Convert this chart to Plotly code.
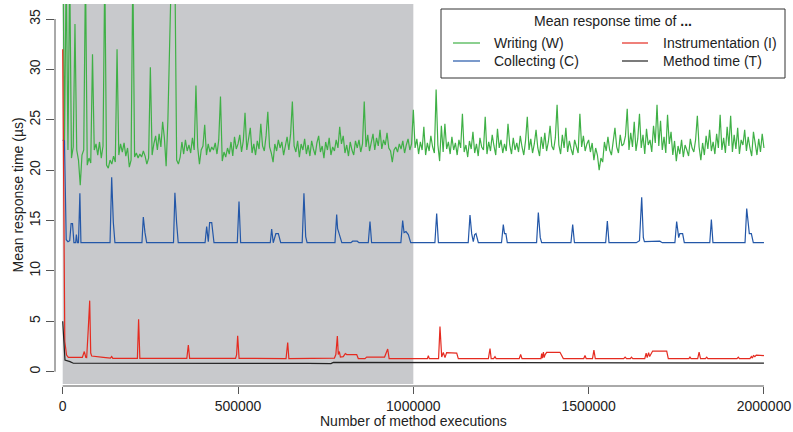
import plotly.graph_objects as go

# ---------------- data ----------------
GREEN_STEP = 5000  # executions between consecutive samples of the Writing series
writing_y = [
    45, 22.5, 40, 22.0, 40, 21.2, 22.3, 34.5, 22.0, 21.0, 18.5, 21.5, 22.0, 40, 20.5, 21.2, 20.7, 31.5, 22.0, 22.6,
    21.5, 22.8, 21.2, 22.4, 40, 20.5, 20.2, 21.0, 20.6, 21.4, 20.8, 32.0, 21.5, 22.6, 21.8, 22.7, 21.4, 22.2, 20.3, 21.0,
    40, 21.3, 21.7, 21.2, 21.6, 21.3, 21.9, 21.4, 20.6, 21.2, 30.2, 21.5, 22.6, 23.4, 22.0, 23.6, 22.3, 24.8, 23.2, 20.4,
    25.0, 32.5, 40, 40, 40, 21.0, 20.6, 21.3, 22.8, 21.6, 23.0, 21.9, 22.5, 21.7, 23.2, 22.0, 28.4, 22.3, 20.6, 22.0,
    22.4, 24.5, 21.5, 22.6, 21.8, 22.3, 22.0, 22.7, 21.6, 23.0, 27.3, 20.9, 21.8, 21.3, 22.2, 21.6, 22.8, 21.4, 23.3, 22.1,
    22.6, 23.5, 21.8, 22.9, 25.7, 22.0, 23.1, 24.2, 21.7, 22.6, 21.5, 22.9, 22.1, 24.6, 22.4, 21.9, 23.4, 25.8, 22.3, 21.7,
    20.8, 22.6, 21.9, 23.0, 22.2, 22.8, 21.5, 22.5, 23.3, 22.0, 23.6, 26.8, 22.4, 21.8, 22.9, 21.3, 22.6, 22.0, 23.1, 21.6,
    22.5, 21.4, 22.9, 22.1, 21.5, 22.7, 23.4, 21.8, 22.4, 21.2, 22.8, 22.0, 23.2, 21.5, 22.3, 21.9, 23.0, 22.2, 24.3, 22.6,
    23.4, 21.7, 22.5, 21.4, 22.8, 22.0, 21.5, 22.9, 22.2, 23.0, 21.8, 22.6, 26.8, 22.3, 23.5, 21.9, 22.7, 23.6, 22.0, 23.2,
    22.4, 24.0, 22.1, 23.0, 22.5, 23.7, 22.2, 21.9, 20.8, 22.0, 22.3, 21.8, 22.6, 22.1, 22.9, 21.7, 22.5, 23.1, 22.0, 22.6,
    26.0, 22.2, 23.1, 21.6, 22.8, 22.0, 24.3, 21.5, 22.7, 21.9, 23.4, 22.3, 21.7, 28.0, 22.5, 20.9, 24.4, 21.8, 24.6, 22.1,
    22.8, 21.6, 23.3, 22.0, 22.7, 21.5, 23.0, 22.2, 25.6, 21.8, 22.5, 21.3, 22.9, 22.1, 23.8, 21.7, 22.6, 21.4, 23.2, 22.3,
    22.0, 25.3, 21.6, 22.8, 21.9, 23.5, 22.4, 21.5, 24.1, 22.2, 23.0, 21.7, 22.6, 21.9, 24.6, 22.5, 21.6, 23.2, 22.0, 22.7,
    21.8, 23.4, 22.3, 21.5, 22.9, 25.3, 22.0, 23.1, 21.7, 22.6, 24.0, 22.2, 21.4, 23.3, 22.1, 23.7, 21.9, 22.8, 24.4, 22.4,
    22.0, 23.2, 26.5, 22.5, 21.6, 23.5, 22.2, 24.2, 21.8, 22.9, 22.1, 21.5, 23.0, 22.4, 21.7, 25.6, 22.3, 23.4, 21.9, 22.6,
    23.0, 21.8, 22.7, 21.0, 22.2, 21.5, 20.0, 21.2, 20.8, 22.8, 21.9, 23.3, 22.0, 21.5, 22.9, 24.2, 22.3, 21.7, 23.5, 22.4,
    22.6, 23.4, 26.1, 22.0, 23.7, 22.3, 24.8, 21.9, 23.1, 25.6, 22.2, 23.5, 21.6, 24.1, 22.5, 23.0, 21.8, 24.4, 22.7, 26.5,
    22.4, 24.9, 22.0, 23.3, 21.7, 25.5, 22.6, 23.8, 21.5, 22.9, 20.9, 22.4, 21.6, 23.0, 21.3, 22.5, 22.0, 21.4, 23.1, 22.2,
    21.8, 23.0, 25.4, 22.3, 21.0, 22.7, 21.5, 23.4, 22.1, 24.0, 21.9, 22.8, 21.6, 23.6, 22.2, 25.5, 22.0, 23.2, 21.7, 24.3,
    22.4, 25.4, 21.8, 23.5, 22.1, 24.2, 21.6, 23.0, 22.5, 24.0, 21.9, 23.3, 22.2, 21.4, 23.8, 22.6, 21.5, 23.1, 21.8, 23.6, 22.2,
]
writing_x = [i * GREEN_STEP for i in range(len(writing_y))]

collecting_x = [
    0, 5000, 10000, 15000, 20000, 24000, 28000, 32000, 37000, 39000, 42000, 45000, 49000, 52000,
    135000, 139700, 144400, 149000,
    226000, 229900, 234700, 239500,
    316000, 320000, 324800, 329500,
    406000, 410600, 415300, 419000, 425000, 431500,
    498000, 502800, 507500,
    592000, 596000, 600500, 608000, 615000, 621700,
    683000, 688000, 693000, 697000,
    776500, 781400, 784000, 787500, 791000, 796000,
    822000, 827000, 840000, 845000,
    871500, 876400, 881000,
    964500, 969600, 973500, 979000, 985700, 992500,
    1061500, 1066600, 1071500,
    1156500, 1161600, 1166400, 1171000, 1175000, 1178700, 1185400,
    1251500, 1256600, 1260000, 1264000, 1268000,
    1351500, 1356500, 1362000, 1366000,
    1449500, 1454500, 1459500,
    1548500, 1553300, 1558000,
    1636000, 1645000, 1651300, 1656000, 1659000, 1684000, 1703000, 1710000,
    1746000, 1751000, 1756800, 1760000, 1768000, 1772800,
    1845500, 1850000, 1854500,
    1946000, 1950800, 1958200, 1964000, 1969600, 2000000,
]
collecting_y = [
    23.0, 22.9, 13.1, 12.9, 13.0, 14.7, 14.7, 12.8, 12.8, 13.6, 12.8, 12.8, 17.7, 12.8,
    12.8, 19.3, 14.8, 12.8,
    12.8, 15.35, 13.8, 12.8,
    12.8, 17.76, 14.8, 12.8,
    12.8, 14.4, 12.9, 14.8, 14.8, 12.8,
    12.8, 16.9, 12.8,
    12.8, 14.16, 12.8, 13.7, 13.7, 12.8,
    12.8, 17.7, 13.4, 12.8,
    12.8, 15.6, 14.2, 13.8, 13.4, 12.8,
    12.8, 12.95, 12.95, 12.8,
    12.8, 14.9, 12.8,
    12.8, 15.0, 13.8, 13.9, 13.6, 12.8,
    12.8, 15.7, 12.8,
    12.8, 15.55, 13.7, 12.9, 13.6, 13.7, 12.8,
    12.8, 14.6, 13.7, 13.7, 12.8,
    12.8, 15.8, 13.3, 12.8,
    12.8, 14.6, 12.8,
    12.8, 14.95, 12.8,
    12.8, 13.0, 17.3, 13.3, 12.9, 12.95, 12.95, 12.8,
    12.8, 14.9, 13.3, 13.7, 13.7, 12.8,
    12.8, 15.1, 12.8,
    12.8, 16.2, 13.7, 13.7, 12.8, 12.8,
]

instrumentation_x = [
    0, 6000, 11000, 16000, 56000, 61600, 66000, 68400, 73000, 77000, 79900, 82700, 115800, 136000, 139700, 143000,
    213000, 216500, 220000,
    354000, 358300, 362000,
    493000, 496000, 499000, 503000,
    637000, 641700, 645000,
    770000, 775000, 779000, 783300, 786000, 789000, 792000, 800000, 806000, 810000, 838500, 843000,
    862000, 867000, 918000, 926900, 931000,
    1040000, 1042800, 1045500,
    1072000, 1076000, 1080900, 1085500, 1090300, 1095000, 1123700, 1128300,
    1214000, 1218700, 1222000, 1229000, 1232900, 1236000,
    1302000, 1306000, 1310000,
    1364000, 1366000, 1368000, 1371000, 1373000, 1376000, 1380300, 1418300, 1423000, 1427800,
    1486000, 1489600, 1493000,
    1511000, 1515000, 1519000,
    1600000, 1604000, 1608000, 1619000, 1622000, 1626000,
    1660000, 1664000, 1667000, 1671000, 1674000, 1678000, 1682500, 1722600, 1727200,
    1786000, 1789000, 1792000,
    1811000, 1815000, 1819000,
    1833000, 1836700, 1840000,
    1923000, 1926800, 1930000,
    1960000, 1964000, 1967000, 1970000, 1974000, 1978000, 2000000,
]
instrumentation_y = [
    32.0, 3.0, 1.65, 1.42, 1.42, 2.0, 1.42, 1.4, 4.3, 7.05, 1.85, 1.55, 1.42, 1.35, 1.5, 1.33,
    1.33, 5.2, 1.33,
    1.33, 2.65, 1.33,
    1.33, 1.7, 3.57, 1.33,
    1.3, 2.9, 1.3,
    1.3, 1.35, 1.7, 3.54, 1.7, 2.0, 1.45, 1.5, 1.8, 1.7, 1.7, 1.3,
    1.3, 1.45, 1.45, 2.25, 1.3,
    1.3, 1.6, 1.3,
    1.3, 4.47, 1.45, 1.9, 1.4, 1.9, 1.85, 1.3,
    1.3, 2.3, 1.3, 1.3, 1.5, 1.3,
    1.3, 1.7, 1.3,
    1.3, 1.8, 1.35, 1.95, 1.4, 1.7, 1.92, 1.92, 1.55, 1.3,
    1.3, 1.6, 1.3,
    1.3, 2.15, 1.3,
    1.3, 1.45, 1.3, 1.3, 1.45, 1.3,
    1.3, 1.85, 1.4, 1.9, 1.5, 1.8, 2.05, 2.05, 1.3,
    1.3, 1.45, 1.3,
    1.3, 1.95, 1.3,
    1.3, 1.45, 1.3,
    1.3, 1.45, 1.3,
    1.3, 1.5, 1.35, 1.6, 1.5, 1.65, 1.6,
]

method_x = [0, 6500, 20800, 30300, 700000, 765000, 772000, 855000, 860000, 2000000]
method_y = [5.0, 1.16, 1.0, 0.84, 0.83, 0.80, 0.92, 0.92, 0.85, 0.86]

x_ticks = [0, 500000, 1000000, 1500000, 2000000]
x_tick_labels = ["0", "500000", "1000000", "1500000", "2000000"]
y_ticks = [0, 5, 10, 15, 20, 25, 30, 35]
warmup_end = 1000000

series = [
    ("Writing (W)", writing_x, writing_y, "#3FB046"),
    ("Collecting (C)", collecting_x, collecting_y, "#2357A8"),
    ("Instrumentation (I)", instrumentation_x, instrumentation_y, "#E52B20"),
    ("Method time (T)", method_x, method_y, "#222222"),
]

# ---------------- figure ----------------
FONT = "Liberation Sans, Arial, Helvetica, sans-serif"
W, H = 793, 432
ML, MR, MT, MB = 55, 4, 4, 46
PW, PH = W - ML - MR, H - MT - MB

def px_x(px):
    return (px - ML) / PW

def px_y(py):
    return (H - MB - py) / PH

fig = go.Figure()
for name, xs, ys, col in series:
    fig.add_trace(go.Scatter(x=xs, y=ys, mode="lines", name=name,
                             line=dict(color=col, width=1.2), showlegend=False))

shapes = [
    dict(type="rect", xref="x", yref="y", x0=0, x1=warmup_end, y0=-1.22, y1=36.6,
         fillcolor="#C8C9CC", line=dict(width=0), layer="below"),
    dict(type="line", xref="paper", yref="y", x0=0, x1=0, y0=y_ticks[0], y1=y_ticks[-1],
         line=dict(color="#555555", width=1)),
    dict(type="line", xref="x", yref="paper", x0=x_ticks[0], x1=x_ticks[-1], y0=0, y1=0,
         line=dict(color="#555555", width=1)),
    dict(type="rect", xref="paper", yref="paper", x0=px_x(441), x1=px_x(785),
         y0=px_y(78), y1=px_y(9), fillcolor="white", line=dict(color="#333333", width=1)),
]
annotations = [
    dict(text="Mean response time of <b>...</b>", xref="paper", yref="paper", x=px_x(613), y=px_y(21),
         showarrow=False, xanchor="center", yanchor="middle", font=dict(family=FONT, size=14, color="#222")),
]
legend_pos = [(453, 480, 492, 43), (453, 480, 492, 61), (622, 648, 661, 43), (622, 648, 661, 61)]
for (name, _, _, col), (lx0, lx1, tx, ly) in zip(series, legend_pos):
    shapes.append(dict(type="line", xref="paper", yref="paper", x0=px_x(lx0), x1=px_x(lx1),
                       y0=px_y(ly), y1=px_y(ly), line=dict(color=col, width=1.2)))
    annotations.append(dict(text=name, xref="paper", yref="paper", x=px_x(tx), y=px_y(ly),
                            showarrow=False, xanchor="left", yanchor="middle",
                            font=dict(family=FONT, size=14, color="#222")))
annotations.append(dict(text="Number of method executions", xref="x", yref="paper", x=1000000,
                        y=px_y(421), showarrow=False, xanchor="center", yanchor="middle",
                        font=dict(family=FONT, size=14, color="#222")))
annotations.append(dict(text="Mean response time (µs)", xref="paper", yref="paper", x=px_x(17.5),
                        y=0.5, showarrow=False, xanchor="center", yanchor="middle", textangle=-90,
                        font=dict(family=FONT, size=14, color="#222")))

fig.update_layout(
    width=W, height=H,
    margin=dict(l=ML, r=MR, t=MT, b=MB, pad=0, autoexpand=False),
    paper_bgcolor="white", plot_bgcolor="white",
    font=dict(family=FONT, size=14, color="#222"),
    shapes=shapes, annotations=annotations,
    showlegend=False,
)
fig.update_xaxes(range=[-21960, 2071400], showgrid=False, zeroline=False, showline=False,
                 automargin=False,
                 tickmode="array", tickvals=x_ticks, ticktext=x_tick_labels,
                 ticks="outside", ticklen=7, tickcolor="#555555", tickwidth=1,
                 tickfont=dict(family=FONT, size=14, color="#222"))
fig.update_yaxes(range=[-1.42, 36.49], showgrid=False, zeroline=False, showline=False,
                 automargin=False,
                 tickmode="array", tickvals=y_ticks, ticks="outside", ticklen=8,
                 tickcolor="#555555", tickwidth=1, tickangle=-90,
                 tickfont=dict(family=FONT, size=14, color="#222"))

fig.write_html("out.html", config={"displayModeBar": False},
               post_script="document.body.style.margin='0';document.body.style.padding='0';")
